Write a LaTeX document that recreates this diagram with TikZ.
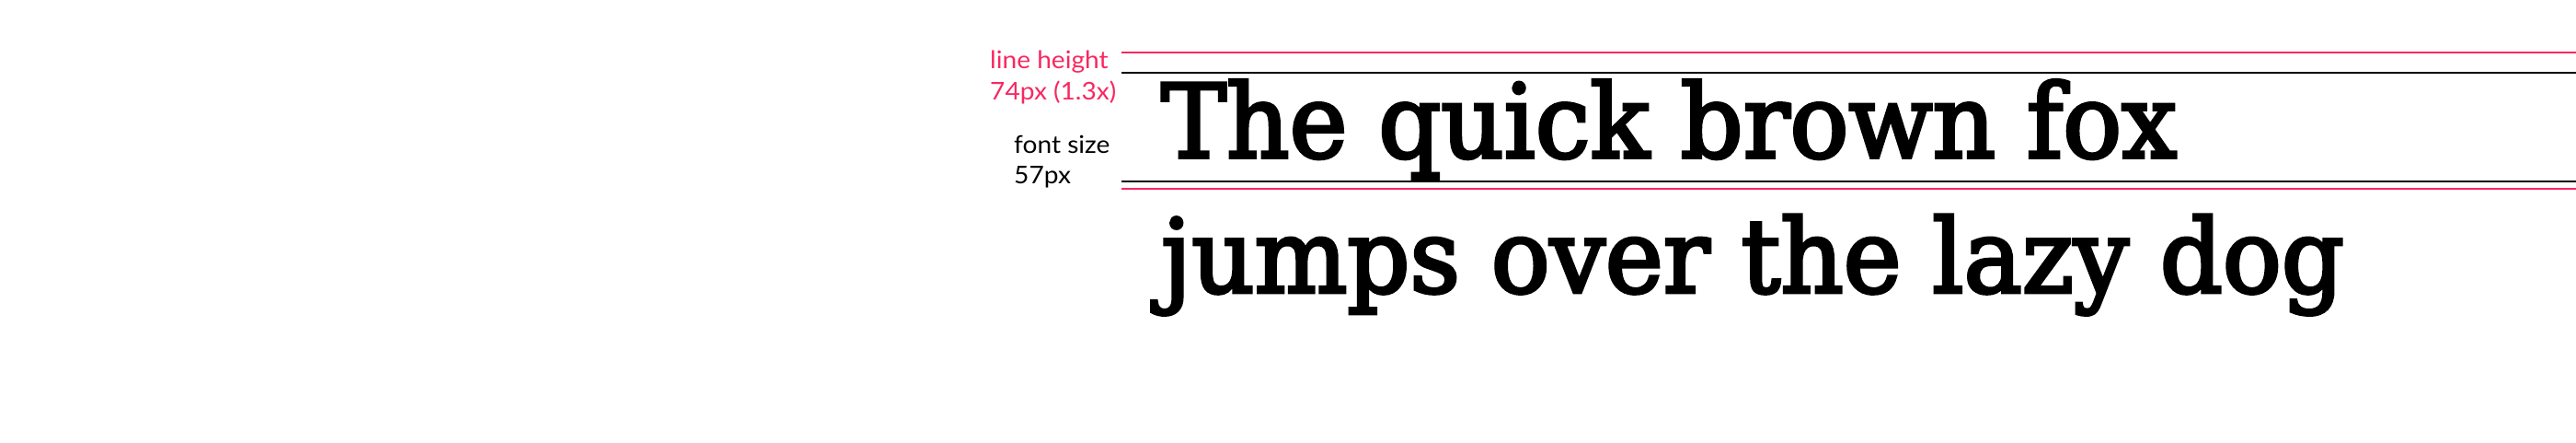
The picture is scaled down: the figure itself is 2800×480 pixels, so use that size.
\documentclass[tikz,border=0pt]{standalone}
\usepackage{fontspec}
\setmainfont{DejaVu Serif}
\newfontfamily\samplefont[FakeStretch=0.958,FakeBold=3.2]{DejaVu Serif}
\newfontfamily\labelfont[FakeStretch=1.06]{Lato}
\definecolor{lhpink}{RGB}{248,40,95}
\begin{document}
\begin{tikzpicture}[x=1pt,y=1pt,
  pinkline/.style={draw=lhpink,line width=2.2pt},
  blackline/.style={draw=black,line width=2.2pt},
  sample/.style={inner sep=0pt,anchor=base west,font=\samplefont\fontsize{111}{148}\selectfont},
  lab/.style={inner sep=0pt,anchor=base west,font=\labelfont\fontsize{26.5}{34}\selectfont}]
\useasboundingbox (0,0) rectangle (2800,-480);
\fill[white] (0,0) rectangle (2800,-480);
\coordinate (pl1) at (1219,-57); \coordinate (pr1) at (2800,-57);
\coordinate (bl1) at (1219,-79);   \coordinate (br1) at (2800,-79);
\coordinate (bl2) at (1219,-197);\coordinate (br2) at (2800,-197);
\coordinate (pl2) at (1219,-205);\coordinate (pr2) at (2800,-205);
\draw[pinkline] (pl1) -- (pr1);
\draw[blackline] (bl1) -- (br1);
\draw[blackline] (bl2) -- (br2);
\draw[pinkline] (pl2) -- (pr2);
\node[lab,text=lhpink] (lh1) at (1076,-74) {line height};
\node[lab,text=lhpink] (lh2) at (1076,-108) {74px (1.3x)};
\node[lab] (fs1) at (1102,-166) {font size};
\node[lab] (fs2) at (1102,-199) {57px};
\node[sample] (t1) at (1262,-171) {The quick brown fox};
\node[sample] (t2) at (1262,-317.5) {jumps over the lazy dog};
\end{tikzpicture}
\end{document}
